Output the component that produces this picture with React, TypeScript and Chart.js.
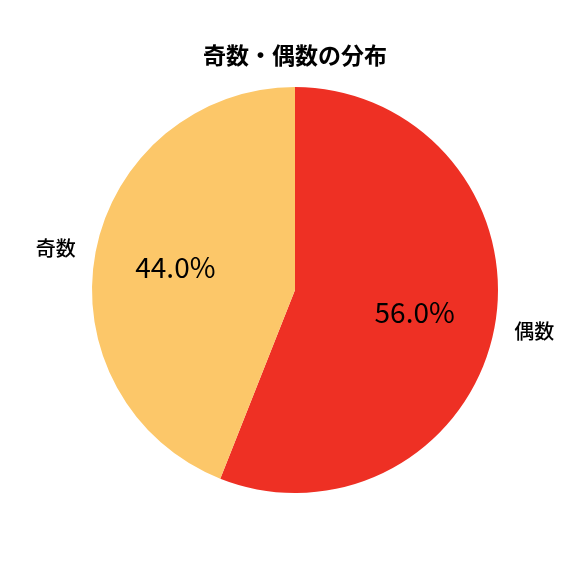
import { useEffect, useRef } from 'react'
import { Chart, registerables } from 'chart.js'
import type { Plugin } from 'chart.js'

Chart.register(...registerables)

// données du graphique
const labels = ['偶数', '奇数']
const values = [56.0, 44.0]
const colors = ['#EE3024', '#FCC769']
const titleText = '奇数・偶数の分布'

const FONT = '"Noto Sans CJK JP", "Noto Sans", sans-serif'

// dessine le titre, les noms et les pourcentages comme matplotlib
const pieLabels: Plugin<'pie'> = {
    id: 'pieLabels',
    afterDraw(chart) {
        const ctx = chart.ctx
        const meta = chart.getDatasetMeta(0)
        const total = values.reduce((a, b) => a + b, 0)
        ctx.save()
        ctx.fillStyle = '#000'
        ctx.textBaseline = 'middle'

        ctx.font = `bold 23px ${FONT}`
        ctx.textAlign = 'center'
        ctx.fillText(titleText, 295, 55)

        meta.data.forEach((el, i) => {
            const arc = el as any
            const mid = (arc.startAngle + arc.endAngle) / 2
            const r = arc.outerRadius
            const cx = arc.x
            const cy = arc.y
            const lx = cx + Math.cos(mid) * r * 1.1
            const ly = cy + Math.sin(mid) * r * 1.1
            ctx.font = `500 20px ${FONT}`
            ctx.textAlign = Math.cos(mid) < 0 ? 'right' : 'left'
            ctx.fillText(labels[i], lx, ly)

            const px = cx + Math.cos(mid) * r * 0.6
            const py = cy + Math.sin(mid) * r * 0.6
            ctx.font = `28px ${FONT}`
            ctx.textAlign = 'center'
            ctx.fillText(((values[i] / total) * 100).toFixed(1) + '%', px, py)
        })
        ctx.restore()
    },
}

function App() {
    const canvasRef = useRef<HTMLCanvasElement>(null)

    useEffect(() => {
        document.body.style.margin = '0'
        if (!canvasRef.current) return
        const chart = new Chart(canvasRef.current, {
            type: 'pie',
            data: {
                labels: labels,
                datasets: [{
                    data: values,
                    backgroundColor: colors,
                    borderWidth: 0,
                }],
            },
            options: {
                animation: false,
                responsive: false,
                layout: { padding: { left: 92, right: 78, top: 87, bottom: 83 } },
                plugins: {
                    legend: { display: false },
                    title: { display: false },
                    tooltip: { enabled: false },
                },
            },
            plugins: [pieLabels],
        })
        return () => chart.destroy()
    }, [])

    return (
        <div style={{ width: 576, height: 576, background: '#fff' }}>
            <canvas ref={canvasRef} width={576} height={576}></canvas>
        </div>
    )
}

export default App
